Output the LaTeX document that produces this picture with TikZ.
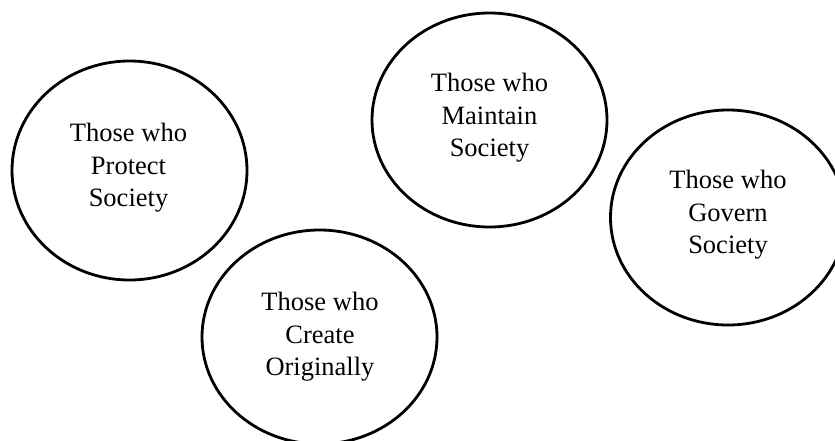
\documentclass[tikz,border=0pt]{standalone}
\usepackage{fontspec}
\setmainfont{Liberation Serif}
\usetikzlibrary{shapes.geometric}
\begin{document}
\begin{tikzpicture}[x=1pt,y=-1pt,
  group/.style={draw=black, line width=2.8pt, ellipse, inner sep=0pt,
    minimum width=235pt, minimum height=216pt},
  grouptext/.style={align=center, inner sep=0pt,
    font=\fontsize{26.5}{32.5}\selectfont}]
\useasboundingbox (0,0) rectangle (835,440);
\clip (0,0) rectangle (835,440);
\node[group, minimum height=219pt] (protect) at (129.5,170.5) {};
\node[group, minimum height=214pt] (create) at (319.5,337) {};
\node[group, minimum height=214pt] (maintain) at (489.5,120) {};
\node[group, minimum height=215pt] (govern) at (728,217.5) {};
\node[grouptext] (tprotect) at (128.5,168) {Those who\\Protect\\Society};
\node[grouptext] (tcreate) at (320,337) {Those who\\Create\\Originally};
\node[grouptext] (tmaintain) at (489.5,118) {Those who\\Maintain\\Society};
\node[grouptext] (tgovern) at (728,215) {Those who\\Govern\\Society};
\end{tikzpicture}
\end{document}
